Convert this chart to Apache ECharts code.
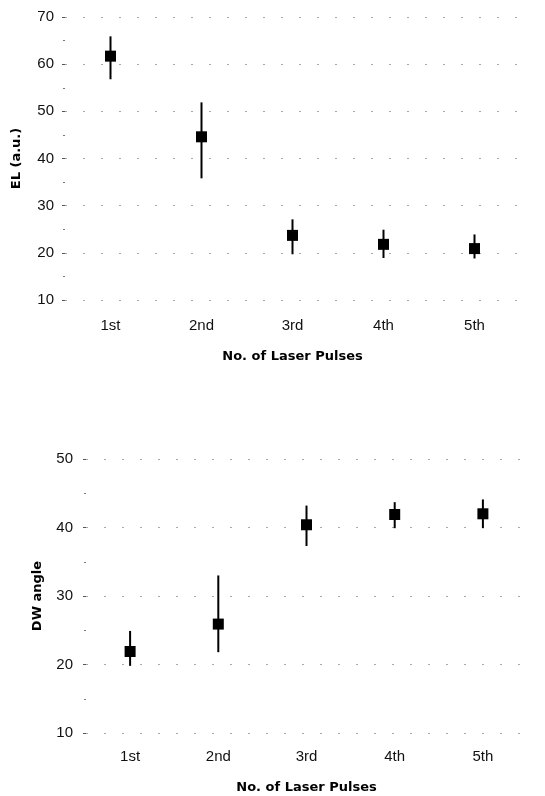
<!DOCTYPE html>
<html>
<head>
<meta charset="utf-8">
<script src="https://cdn.jsdelivr.net/npm/echarts@6/dist/echarts.min.js"></script>
<style>
html,body{margin:0;padding:0;background:#fff;}
#chart{width:545px;height:796px;}
</style>
</head>
<body>
<div id="chart"></div>
<script>
// ---- data ----
const categories = ['1st', '2nd', '3rd', '4th', '5th'];
const elMean = [61.7, 44.6, 23.7, 21.8, 20.9];
const elLow  = [56.8, 35.8, 19.7, 18.9, 18.8];
const elHigh = [65.9, 51.9, 27.1, 24.9, 23.9];
const dwMean = [21.9, 25.9, 40.4, 41.9, 42.0];
const dwLow  = [19.8, 21.8, 37.3, 39.9, 39.9];
const dwHigh = [24.9, 33.0, 43.2, 43.7, 44.1];
const elTicks = [10, 70, 10];   // min, max, interval
const dwTicks = [10, 50, 10];

const font = "'Liberation Sans', Arial, Helvetica, sans-serif";
const nameFont = "'DejaVu Sans', 'Liberation Sans', Arial, sans-serif";
const chart = echarts.init(document.getElementById('chart'), null, {renderer: 'canvas'});

function errRender(params, api) {
  const x = api.value(0);
  const lo = api.coord([x, api.value(1)]);
  const hi = api.coord([x, api.value(2)]);
  return {
    type: 'line',
    shape: {x1: lo[0], y1: lo[1], x2: hi[0], y2: hi[1]},
    style: {stroke: '#000', lineWidth: 2}
  };
}

function yAxisCfg(gridIndex, t, name, gap, margin) {
  return {
    type: 'value', gridIndex: gridIndex, min: t[0], max: t[1], interval: t[2],
    name: name, nameLocation: 'middle', nameGap: gap,
    nameTextStyle: {fontFamily: nameFont, fontSize: 13, fontWeight: 'bold', color: '#000'},
    axisLine: {show: false},
    axisTick: {show: true, length: 3, lineStyle: {color: '#555'}},
    minorTick: {show: true, splitNumber: 2, length: 2, lineStyle: {color: '#777'}},
    axisLabel: {fontFamily: font, fontSize: 15, color: '#111', margin: margin},
    splitLine: {show: true, lineStyle: {color: '#a8a8a8', width: 1, type: [2, 16]}}
  };
}
function xAxisCfg(gridIndex, margin, gap) {
  return {
    type: 'category', gridIndex: gridIndex, data: categories, boundaryGap: true,
    name: 'No. of Laser Pulses', nameLocation: 'middle', nameGap: gap,
    nameTextStyle: {fontFamily: nameFont, fontSize: 13, fontWeight: 'bold', color: '#000'},
    axisLine: {show: false}, axisTick: {show: false},
    axisLabel: {fontFamily: font, fontSize: 15, color: '#111', margin: margin}
  };
}

const option = {
  backgroundColor: '#fff',
  animation: false,
  grid: [
    {left: 65, top: 17, right: 25, height: 283},
    {left: 86, top: 459, right: 18, height: 274}
  ],
  xAxis: [xAxisCfg(0, 18, 50), xAxisCfg(1, 16, 48)],
  yAxis: [yAxisCfg(0, elTicks, 'EL (a.u.)', 42, 11), yAxisCfg(1, dwTicks, 'DW angle', 42, 13)],
  series: [
    {type: 'custom', xAxisIndex: 0, yAxisIndex: 0, renderItem: errRender,
     data: categories.map((c, i) => [i, elLow[i], elHigh[i]]), z: 2},
    {type: 'scatter', xAxisIndex: 0, yAxisIndex: 0, symbol: 'rect', symbolSize: 11,
     itemStyle: {color: '#000', opacity: 1}, data: categories.map((c, i) => [i, elMean[i]]), z: 3},
    {type: 'custom', xAxisIndex: 1, yAxisIndex: 1, renderItem: errRender,
     data: categories.map((c, i) => [i, dwLow[i], dwHigh[i]]), z: 2},
    {type: 'scatter', xAxisIndex: 1, yAxisIndex: 1, symbol: 'rect', symbolSize: 11,
     itemStyle: {color: '#000', opacity: 1}, data: categories.map((c, i) => [i, dwMean[i]]), z: 3}
  ]
};
chart.setOption(option);
</script>
</body>
</html>
